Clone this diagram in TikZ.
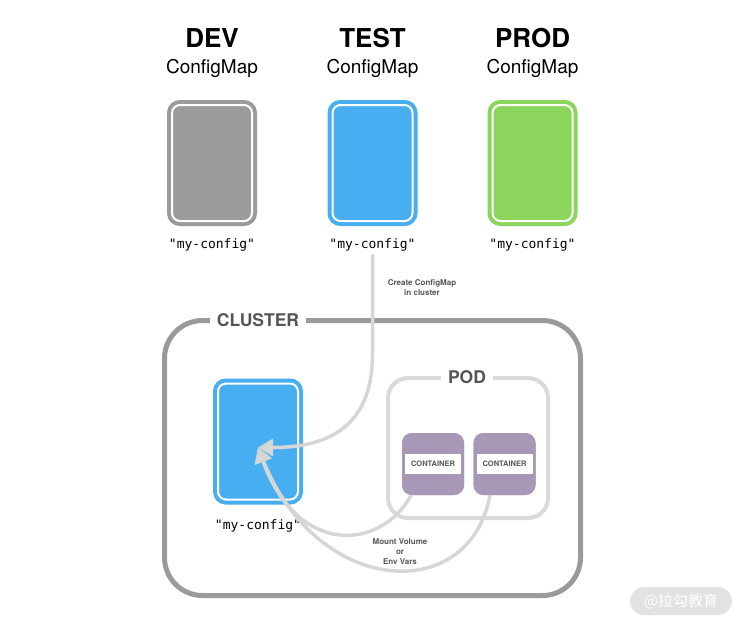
\documentclass[tikz,border=0pt]{standalone}
\usepackage{fontspec}
\setmainfont{TeX Gyre Heros}
\setmonofont{DejaVu Sans Mono}
\newfontfamily\cjk{Noto Sans CJK SC}
\usetikzlibrary{arrows.meta}

\definecolor{devgray}{HTML}{9B9B9B}
\definecolor{testblue}{HTML}{48AEF2}
\definecolor{prodgreen}{HTML}{8BD55C}
\definecolor{ctrpurple}{HTML}{A898B8}
\definecolor{clustergray}{HTML}{9A9A9A}
\definecolor{podgray}{HTML}{DADADA}
\definecolor{flowgray}{HTML}{D6D6D6}
\definecolor{labelgray}{HTML}{555555}
\definecolor{wmgray}{HTML}{E2E2E2}

\begin{document}
\begin{tikzpicture}[x=1pt, y=-1pt]
\tikzset{ >={Triangle[length=15pt,width=17pt]},
  card/.style={fill=#1, draw=#1, double=white, double distance=2pt, line width=4pt,
               rounded corners=8pt, minimum width=80pt, minimum height=116pt},
  envname/.style={font=\fontsize{26}{28}\selectfont\bfseries, anchor=base},
  kind/.style={font=\fontsize{19}{21}\selectfont, anchor=base},
  cfgname/.style={font=\fontsize{13}{15}\selectfont\ttfamily, anchor=base},
  boxlabel/.style={font=\fontsize{17.5}{19}\selectfont\bfseries, text=labelgray,
                   fill=white, anchor=base, inner xsep=7pt},
  ctr/.style={fill=ctrpurple, rounded corners=10pt, minimum width=62pt, minimum height=62pt},
  ctrlabel/.style={fill=white, minimum width=56pt, minimum height=20pt, inner sep=0pt,
                   font=\fontsize{7.5}{8}\selectfont\bfseries, text=labelgray},
  note/.style={font=\fontsize{8}{10}\selectfont\bfseries, text=labelgray, align=center},
  flow/.style={draw=flowgray, line width=3.5pt, ->},
}

\useasboundingbox (0,0) rectangle (744,625);
%\draw [lightgray, dashed] (0,0) grid[step=50] (744,625);

% environments
\node [envname] (devname)  at (212,47)  {DEV};
\node [envname] (testname) at (372.5,47) {TEST};
\node [envname] (prodname) at (532.5,47) {PROD};

\node [kind] (devkind)  at (212,73)  {ConfigMap};
\node [kind] (testkind) at (372.5,73) {ConfigMap};
\node [kind] (prodkind) at (532.5,73) {ConfigMap};

\node [card=devgray]   (devcard)  at (212,163)   {};
\node [card=testblue]  (testcard) at (372.5,163) {};
\node [card=prodgreen] (prodcard) at (532.5,163) {};

\node [cfgname] (devcfg)  at (212,248)   {"my-config"};
\node [cfgname] (testcfg) at (372.5,248) {"my-config"};
\node [cfgname] (prodcfg) at (532.5,248) {"my-config"};

\node [note] (create) at (422,288) {Create ConfigMap\\in cluster};

% cluster and pod
\node [draw=clustergray, line width=5pt, rounded corners=38pt,
       minimum width=416pt, minimum height=275pt] (cluster) at (372.5,458) {};
\node [boxlabel] (clusterlbl) at (258,326) {CLUSTER};

\node [draw=podgray, line width=4pt, rounded corners=20pt,
       minimum width=160pt, minimum height=140pt] (pod) at (468,448) {};
\node [boxlabel] (podlbl) at (467,383) {POD};

\node [card=testblue] (ccard) at (258,441.5) {};
\node [cfgname] (ccfg) at (258,529) {"my-config"};

\coordinate (tip) at ([yshift=-6pt]ccard.center);

\node [ctr] (c1) at (433,464)   {};
\node [ctr] (c2) at (504.5,464) {};

\draw [flow] (testcfg.south) -- ++(0,100) .. controls +(0,80) and +(60,0) .. (tip);
\draw [flow] (c1.235) .. controls +(-30,55) and +(40,110) .. (tip);
\draw [flow] (c2.245) .. controls +(-20,110) and +(60,150) .. (tip);

\node [ctr] at (c1) {};
\node [ctr] at (c2) {};
\node [ctrlabel] (c1lbl) at (c1) {CONTAINER};
\node [ctrlabel] (c2lbl) at (c2) {CONTAINER};

\node [note] (mount) at (400,552) {Mount Volume\\or\\Env Vars};

% watermark
\node [fill=wmgray, rounded corners=14pt, minimum width=102pt, minimum height=28pt,
       text=white, font=\fontsize{15}{16}\selectfont\cjk] (wm) at (681,601) {@拉勾教育};
\end{tikzpicture}
\end{document}
